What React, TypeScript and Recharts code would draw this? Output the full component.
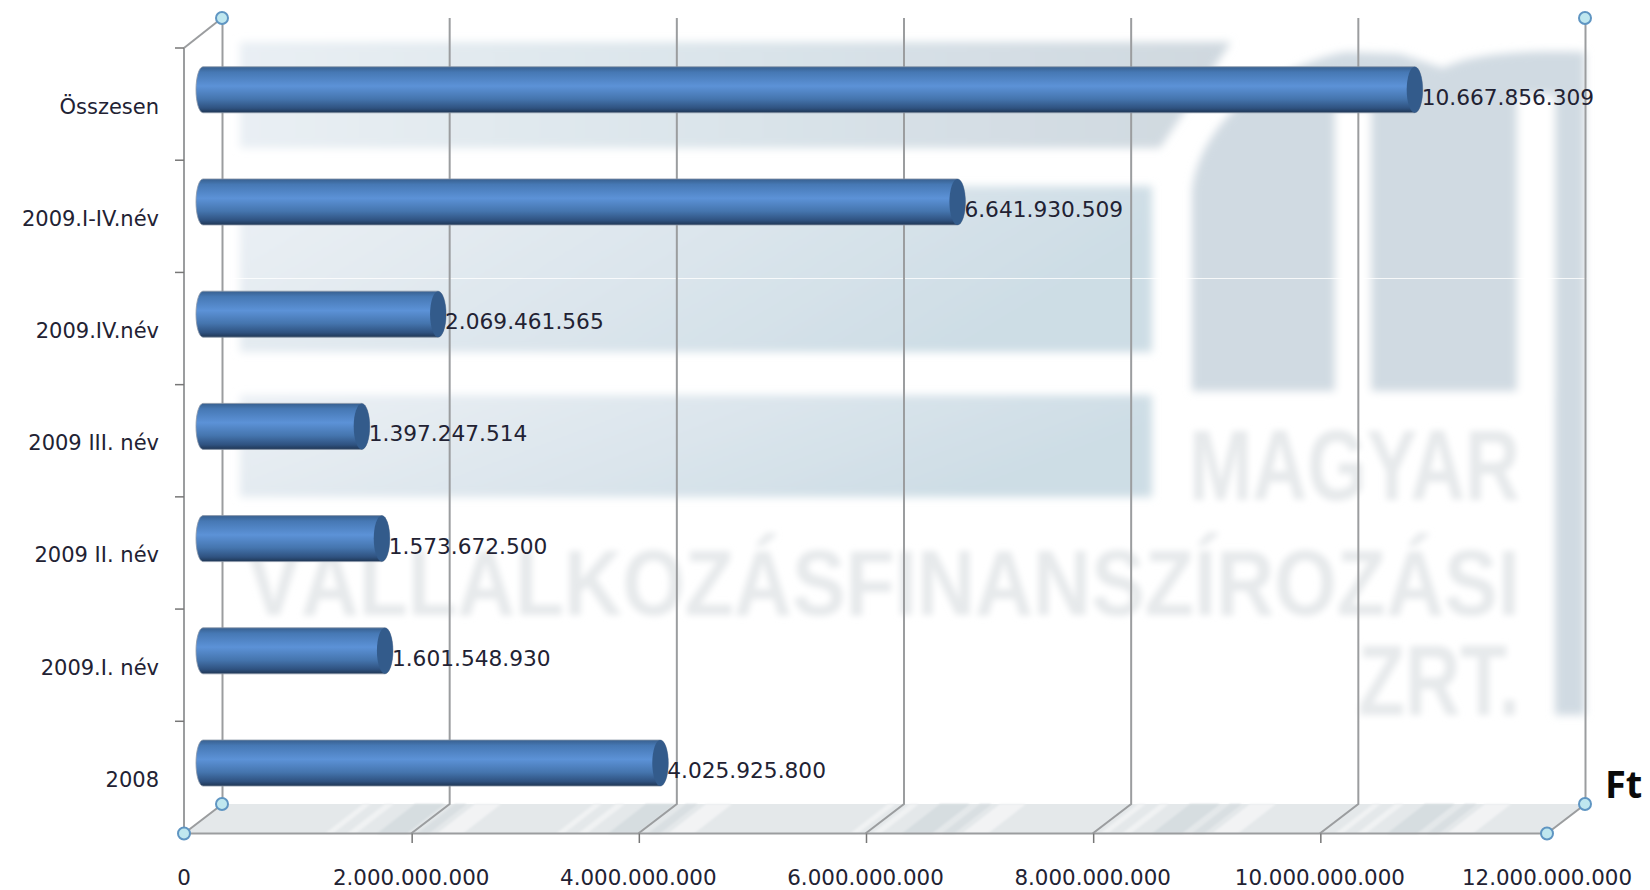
import React from 'react';
import { BarChart, Bar, XAxis, YAxis, CartesianGrid, LabelList } from 'recharts';

const categories = ['Összesen', '2009.I-IV.név', '2009.IV.név', '2009 III. név', '2009 II. név', '2009.I. név', '2008'];
const values = [10667856309, 6641930509, 2069461565, 1397247514, 1573672500, 1601548930, 4025925800];
const xTicks = [0, 2000000000, 4000000000, 6000000000, 8000000000, 10000000000, 12000000000];
const unitLabel = 'Ft';
const watermarkLines = ['MAGYAR', 'VÁLLALKOZÁSFINANSZÍROZÁSI', 'ZRT.'];

const data = categories.map((name, i) => ({ name, value: values[i] }));
const fmt = (v: number) => String(v).replace(/\B(?=(\d{3})+(?!\d))/g, '.');

const FONT = '"DejaVu Sans", sans-serif';
const W = 1650, H = 890;
const LEFT = 184, TOP = 48, RIGHT_M = 103, BOTTOM_M = 56.5;
const DX = 38, DY = 29.5;
const FLOOR_Y = H - BOTTOM_M;
const BACK_TOP = 18;
const BAND = (H - TOP - BOTTOM_M) / categories.length;
const LINE = '#9b9d9f';

const stripeGroups = [325, 556, 850, 1100, 1335];

function Background() {
  const floorBack = FLOOR_Y - DY;
  const skew = (x: number, w: number) =>
    `${x},${FLOOR_Y} ${x + w},${FLOOR_Y} ${x + w + DX},${floorBack} ${x + DX},${floorBack}`;
  return (
    <svg width={W} height={H} style={{ position: 'absolute', left: 0, top: 0 }}>
      <defs>
        <filter id="wmBlur" x="-5%" y="-5%" width="110%" height="110%"><feGaussianBlur stdDeviation="4" /></filter>
        <filter id="wmBlur2" x="-5%" y="-5%" width="110%" height="110%"><feGaussianBlur stdDeviation="3" /></filter>
        <filter id="flBlur"><feGaussianBlur stdDeviation="0.8" /></filter>
        <linearGradient id="band1" x1="0" y1="0" x2="1" y2="0">
          <stop offset="0" stopColor="#e9eff4" /><stop offset="0.5" stopColor="#dae4ea" /><stop offset="1" stopColor="#cfd8df" />
        </linearGradient>
        <linearGradient id="band2" x1="0" y1="0" x2="1" y2="0.3">
          <stop offset="0" stopColor="#ebf0f5" /><stop offset="0.5" stopColor="#dde6ed" /><stop offset="1" stopColor="#cddde5" />
        </linearGradient>
      </defs>
      <g filter="url(#wmBlur)">
        <polygon points="240,42 1231,42 1160,148 240,148" fill="url(#band1)" />
        <rect x={240} y={186} width={912} height={166} fill="url(#band2)" />
        <rect x={240} y={395} width={912} height={102} fill="url(#band2)" />
        <path d="M1192,391 L1192,190 C1200,120 1275,65 1345,52 L1400,54 L1443,68 C1470,54 1520,50 1585,52 L1585,391 Z" fill="#d0dae2" />
        <rect x={1335} y={108} width={36} height={290} fill="#ffffff" />
        <rect x={1517} y={95} width={38} height={300} fill="#ffffff" />
        <rect x={1555} y={380} width={30} height={335} fill="#d0dae2" />
      </g>
      <g filter="url(#wmBlur2)" fill="#e6e9eb" fontFamily='"Liberation Sans Narrow", "Liberation Sans", sans-serif' fontWeight={700}>
        <text x={1189} y={500} fontSize={100} textLength={331} lengthAdjust="spacingAndGlyphs">{watermarkLines[0]}</text>
        <text x={247} y={615} fontSize={92} textLength={1273} lengthAdjust="spacingAndGlyphs">{watermarkLines[1]}</text>
        <text x={1358} y={715} fontSize={100} textLength={162} lengthAdjust="spacingAndGlyphs">{watermarkLines[2]}</text>
      </g>
      <line x1={180} x2={1587} y1={278.5} y2={278.5} stroke="#ffffff" strokeOpacity={0.8} strokeWidth={1} />
      <polygon points={`${LEFT},${FLOOR_Y} ${LEFT + DX},${floorBack} ${W - RIGHT_M + DX},${floorBack} ${W - RIGHT_M},${FLOOR_Y}`} fill="#e4e8ea" />
      <g filter="url(#flBlur)">
        {stripeGroups.map((x) => (
          <g key={x}>
            <polygon points={skew(x, 8)} fill="#f0f2f3" />
            <polygon points={skew(x + 22, 9)} fill="#f0f2f3" />
            <polygon points={skew(x + 52, 30)} fill="#d6dde0" />
            <polygon points={skew(x + 92, 12)} fill="#d9dfe2" />
            <polygon points={skew(x + 112, 26)} fill="#f2f3f4" />
          </g>
        ))}
      </g>
      <text x={1605} y={798} fontSize={38} fontWeight={700} fontFamily='"Open Sans", sans-serif' fill="#0a0a0a">{unitLabel}</text>
    </svg>
  );
}

function Node({ cx, cy }: { cx: number; cy: number }) {
  return <circle cx={cx} cy={cy} r={6} fill="#bfe7ef" stroke="#5f95c2" strokeWidth={2} />;
}

function GridLine(props: any) {
  const { x1, index } = props;
  const first = x1 <= LEFT + 1;
  const last = x1 >= W - RIGHT_M - 1;
  return (
    <g key={`g-${index}-${x1}`}>
      <polyline points={`${x1 + DX + 0.5},${BACK_TOP} ${x1 + DX + 0.5},${FLOOR_Y - DY} ${x1},${FLOOR_Y}`} fill="none" stroke={LINE} strokeWidth={2} />
      {first && <line x1={x1} y1={TOP} x2={x1 + DX} y2={BACK_TOP} stroke={LINE} strokeWidth={2} />}
      {(first || last) && (
        <>
          <Node cx={x1 + DX} cy={BACK_TOP} />
          <Node cx={x1 + DX} cy={FLOOR_Y - DY} />
        </>
      )}
    </g>
  );
}

function XTick(props: any) {
  const { x, payload, index } = props;
  const isEnd = payload.value === 0 || payload.value === xTicks[xTicks.length - 1];
  return (
    <g key={index}>
      {!isEnd && <line x1={x + 1} x2={x + 1} y1={FLOOR_Y} y2={FLOOR_Y + 9.5} stroke="#777" strokeWidth={1.5} />}
      {isEnd && <Node cx={x} cy={FLOOR_Y} />}
      <text x={x} y={885} textAnchor="middle" fontFamily={FONT} fontSize={21.4} fill="#222233">{fmt(payload.value)}</text>
    </g>
  );
}

function YTick(props: any) {
  const { y, payload } = props;
  return (
    <g>
      <line x1={175} x2={LEFT} y1={y - BAND / 2} y2={y - BAND / 2} stroke="#777" strokeWidth={1.5} />
      <text x={159} y={y + 9.5} textAnchor="end" fontFamily={FONT} fontSize={21} fill="#222233">{payload.value}</text>
    </g>
  );
}

function Cylinder(props: any) {
  const { x, y, width, height } = props;
  const rx = 8;
  const bx = x + DX / 2;
  const by = y - DY / 2 + 0.5;
  const ry = height / 2;
  const xe = bx + width;
  return (
    <g>
      <path
        d={`M${bx},${by} L${xe},${by} A${rx},${ry} 0 0 1 ${xe},${by + height} L${bx},${by + height} A7,${ry} 0 0 1 ${bx},${by} Z`}
        fill="url(#cyl)"
        stroke="#8a97a8"
        strokeWidth={0.8}
      />
      <ellipse cx={xe} cy={by + ry} rx={rx} ry={ry} fill="#335b8b" />
    </g>
  );
}

function ValueLabel(props: any) {
  const { x, y, width, height, value } = props;
  return (
    <text x={x + width + DX / 2 + 7} y={y - DY / 2 + height / 2 + 15.5} fontFamily={FONT} fontSize={21.7} fill="#222233">
      {fmt(value)}
    </text>
  );
}

export default function App() {
  return (
    <div style={{ position: 'absolute', left: 0, top: 0, width: W, height: H, background: '#fff', overflow: 'hidden' }}>
      <Background />
      <div style={{ position: 'absolute', left: 0, top: 0 }}>
        <BarChart
          width={W}
          height={H}
          data={data}
          layout="vertical"
          margin={{ top: TOP, right: RIGHT_M, bottom: 0, left: 0 }}
          style={{ overflow: 'visible' }}
        >
          <defs>
            <linearGradient id="cyl" x1="0" y1="0" x2="0" y2="1">
              <stop offset="0" stopColor="#38608f" />
              <stop offset="0.12" stopColor="#4678b4" />
              <stop offset="0.42" stopColor="#5c92d7" />
              <stop offset="0.7" stopColor="#4575ae" />
              <stop offset="0.9" stopColor="#2f5280" />
              <stop offset="1" stopColor="#1f3654" />
            </linearGradient>
          </defs>
          <CartesianGrid horizontal={false} vertical={GridLine as any} syncWithTicks />
          <XAxis
            type="number"
            domain={[0, xTicks[xTicks.length - 1]]}
            ticks={xTicks}
            interval={0}
            height={BOTTOM_M}
            axisLine={{ stroke: LINE, strokeWidth: 2 }}
            tickLine={false}
            tick={XTick as any}
          />
          <YAxis
            type="category"
            dataKey="name"
            width={LEFT}
            interval={0}
            axisLine={{ stroke: LINE, strokeWidth: 2 }}
            tickLine={false}
            tick={YTick as any}
          />
          <Bar dataKey="value" barSize={46} isAnimationActive={false} shape={Cylinder as any}>
            <LabelList dataKey="value" content={ValueLabel as any} />
          </Bar>
        </BarChart>
      </div>
    </div>
  );
}
